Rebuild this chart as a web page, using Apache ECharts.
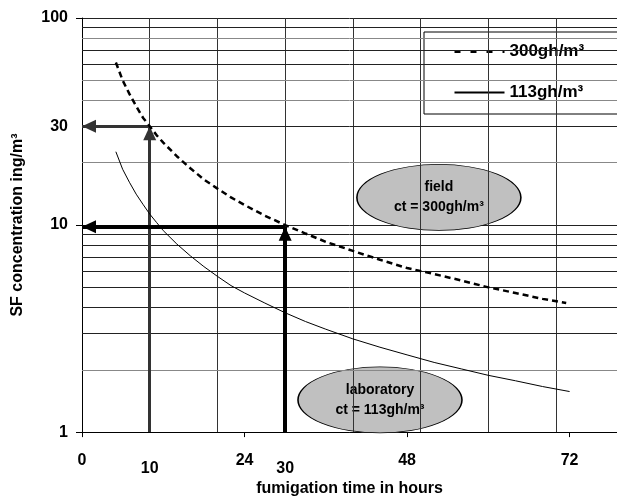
<!DOCTYPE html>
<html lang="en">
<head>
  <meta charset="UTF-8">
  <title>SF concentration</title>
  <script src="https://cdn.jsdelivr.net/npm/echarts@6/dist/echarts.min.js"></script>
  <style>
    * { margin: 0; padding: 0; }
    body { background: #fff; }
    #chart { width: 617px; height: 502px; }
  </style>
</head>
<body>
  <div id="chart"></div>
  <script>
    const hours = [5, 6, 7, 8, 9, 10, 11, 12, 14, 16, 18, 20, 22, 24, 27, 30, 33, 36, 40, 44, 48, 52, 56, 60, 64, 68, 71.5];
    const field300 = [61, 50, 43, 37.5, 33, 30, 27.2, 25, 21.5, 18.8, 16.6, 15, 13.6, 12.5, 11.1, 10, 9.1, 8.3, 7.5, 6.8, 6.2, 5.8, 5.4, 5.0, 4.7, 4.4, 4.2];
    const hoursLab = [5, 6, 7, 8, 9, 10, 11, 12, 14, 16, 18, 20, 22, 24, 27, 30, 33, 36, 40, 44, 48, 52, 56, 60, 64, 68, 72];
    const lab113 = [22.6, 18.6, 16.1, 14.1, 12.6, 11.3, 10.3, 9.4, 8.1, 7.1, 6.3, 5.65, 5.1, 4.7, 4.2, 3.77, 3.42, 3.14, 2.82, 2.57, 2.36, 2.17, 2.02, 1.88, 1.77, 1.66, 1.57];

    const xTicks = [0, 24, 48, 72];
    const xLabels = [0, 10, 24, 30, 48, 72];
    const yTicks = [1, 10, 100];
    const yLabels = [1, 10, 30, 100];
    const gridX = [10, 20, 30, 40, 50, 60, 70];
    const gridY = [2, 3, 4, 5, 6, 7, 8, 9, 20, 30, 40, 50, 60, 70, 80, 90];
    const greyY = [2, 20, 40, 50, 80];

    // reading arrows: [fromX, fromY, toX, toY]
    const arrowsThin = [[10, 1, 10, 30], [10, 30, 0, 30]];
    const arrowsThick = [[30, 1, 30, 9.8], [30, 9.8, 0, 9.8]];

    const notes = [
      { name: 'field', ct: 'ct = 300gh/m³', x: 52.7, y: 13.6 },
      { name: 'laboratory', ct: 'ct = 113gh/m³', x: 44, y: 1.43 }
    ];

    const font = '"Liberation Sans", Arial, sans-serif';
    const myChart = echarts.init(document.getElementById('chart'));

    const toPairs = (xs, ys) => xs.map((x, i) => [x, ys[i]]);
    const arrowData = list => list.map(a => [{ coord: [a[0], a[1]] }, { coord: [a[2], a[3]] }]);
    const noDot = { color: 'rgba(0,0,0,0)', borderWidth: 0 };

    const option = {
      animation: false,
      grid: { left: 82, top: 18, right: 0, bottom: 69 },
      legend: {
        data: [
          { name: '300gh/m³', itemStyle: noDot, lineStyle: { type: [6, 10], width: 3, color: '#000' } },
          { name: '113gh/m³', itemStyle: noDot }
        ],
        orient: 'vertical',
        left: 424,
        top: 32,
        backgroundColor: '#fff',
        borderColor: '#000',
        borderWidth: 1,
        padding: [11, 40, 13, 29],
        itemWidth: 50,
        itemHeight: 16,
        itemGap: 24,
        textStyle: { fontSize: 17, fontWeight: 'bold', color: '#000', fontFamily: font }
      },
      xAxis: {
        type: 'value',
        min: 0,
        max: 79,
        name: 'fumigation time in hours',
        nameLocation: 'middle',
        nameGap: 48,
        nameTextStyle: { fontSize: 16, fontWeight: 'bold', color: '#000', fontFamily: font },
        axisLine: { lineStyle: { color: '#000', width: 1 } },
        axisTick: { customValues: xTicks, length: 5, lineStyle: { color: '#000' } },
        axisLabel: {
          customValues: xLabels,
          margin: 20,
          fontSize: 16,
          fontWeight: 'bold',
          color: '#000',
          fontFamily: font,
          formatter: v => (v === 10 || v === 30) ? '{low|' + v + '}' : '{n|' + v + '}',
          rich: {
            n: { fontSize: 16, fontWeight: 'bold', fontFamily: font, color: '#000' },
            low: { fontSize: 16, fontWeight: 'bold', fontFamily: font, color: '#000', padding: [8, 0, 0, 0] }
          }
        },
        splitLine: { show: false }
      },
      yAxis: {
        type: 'log',
        logBase: 10,
        min: 1,
        max: 100,
        name: 'SF concentration ing/m³',
        nameLocation: 'middle',
        nameGap: 56,
        nameTextStyle: { fontSize: 16, fontWeight: 'bold', color: '#000', fontFamily: font },
        axisLine: { show: true, lineStyle: { color: '#000', width: 1 } },
        axisTick: { customValues: yTicks, length: 6, lineStyle: { color: '#000' } },
        axisLabel: {
          customValues: yLabels,
          margin: 14,
          fontSize: 16,
          fontWeight: 'bold',
          color: '#000',
          fontFamily: font
        },
        splitLine: { show: true, lineStyle: { color: '#222', width: 1 } }
      },
      series: [
        {
          name: 'grid',
          type: 'line',
          data: [],
          silent: true,
          z: 1,
          markLine: {
            silent: true,
            symbol: 'none',
            label: { show: false },
            data: gridX.map(v => ({ xAxis: v, lineStyle: { color: '#333', width: 1, type: 'solid' } }))
              .concat(gridY.map(v => ({
                yAxis: v,
                lineStyle: { color: greyY.includes(v) ? '#888' : '#222', width: 1, type: 'solid' }
              })))
          }
        },
        {
          name: 'notes',
          type: 'scatter',
          z: 3,
          silent: true,
          symbol: 'circle',
          symbolSize: [164, 66],
          itemStyle: { color: '#c0c0c0', borderColor: '#000', borderWidth: 1, opacity: 1 },
          data: notes.map(n => ({ value: [n.x, n.y], name: n.name, ct: n.ct })),
          label: {
            show: true,
            position: 'inside',
            formatter: p => '{a|' + p.name + '}\n{a|' + p.data.ct + '}',
            rich: {
              a: { fontSize: 14, fontWeight: 'bold', color: '#000', fontFamily: font, lineHeight: 20 }
            }
          }
        },
        {
          name: 'arrows',
          type: 'line',
          data: [],
          z: 4,
          markLine: {
            silent: true,
            label: { show: false },
            symbol: ['none', 'triangle'],
            symbolSize: [13, 14],
            symbolOffset: [[0, 0], [0, '50%']],
            data: arrowData(arrowsThin).map(d => {
              d[0].lineStyle = { color: '#333', width: 3, type: 'solid' };
              return d;
            }).concat(arrowData(arrowsThick).map(d => {
              d[0].lineStyle = { color: '#000', width: 4, type: 'solid' };
              return d;
            }))
          }
        },
        {
          name: '300gh/m³',
          type: 'line',
          z: 5,
          symbol: 'none',
          data: toPairs(hours, field300),
          lineStyle: { color: '#000', width: 2.5, type: [6, 4] },
          itemStyle: { color: '#000' }
        },
        {
          name: '113gh/m³',
          type: 'line',
          z: 5,
          symbol: 'none',
          data: toPairs(hoursLab, lab113),
          lineStyle: { color: '#000', width: 1, type: 'solid' },
          itemStyle: { color: '#000' }
        }
      ]
    };

    myChart.setOption(option);
  </script>
</body>
</html>
